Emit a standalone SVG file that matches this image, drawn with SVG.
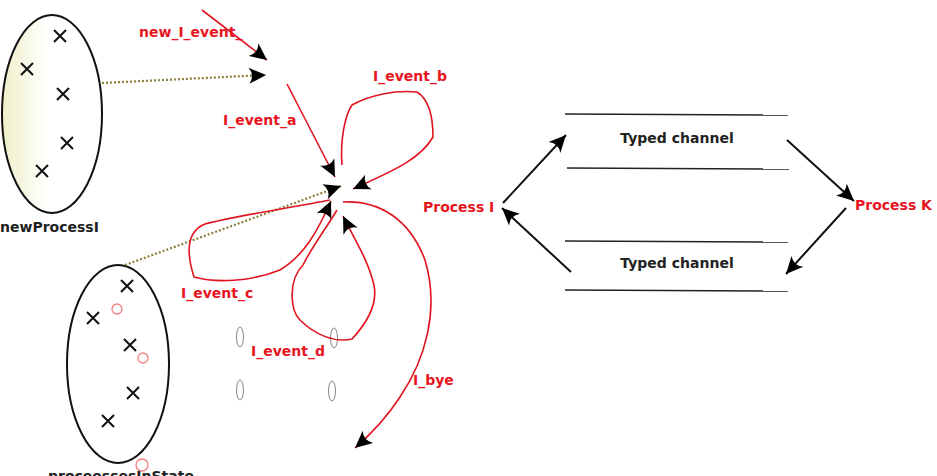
<svg xmlns="http://www.w3.org/2000/svg" width="937" height="476" viewBox="0 0 937 476">
<style>
.lbl{font-family:"DejaVu Sans",sans-serif;font-weight:bold;font-size:14px;fill:#e8141e}
.dk{font-family:"DejaVu Sans",sans-serif;font-weight:bold;font-size:14px;fill:#222}
.red{fill:none;stroke:#e0141e;stroke-width:1.6}
.blk{fill:none;stroke:#111;stroke-width:2}
.dot{fill:none;stroke:#8a7e3a;stroke-width:2.2;stroke-dasharray:2,2}
.x{stroke:#111;stroke-width:2}
.oval{stroke:#111;stroke-width:2}
.ch{stroke:#222;stroke-width:1.5}
.sm{fill:none;stroke:#888;stroke-width:1}
.rc{fill:none;stroke:#f08080;stroke-width:1.3}
</style>
<defs>
<linearGradient id="g1" x1="0" y1="0" x2="1" y2="0">
<stop offset="0" stop-color="#efefc8"/>
<stop offset="0.45" stop-color="#ffffff"/>
</linearGradient>
<marker id="ah" viewBox="-18 -9 20 18" refX="0" refY="0" markerWidth="20" markerHeight="18" orient="auto" markerUnits="userSpaceOnUse">
<path d="M0,0 L-17,-8 Q-11,0 -17,8 Z" fill="#000"/>
</marker>
</defs>

<g id="newProcessI">
<ellipse cx="52" cy="114" rx="50" ry="99" fill="url(#g1)" class="oval"/>
<path class="x" d="M54,30 l12,12 M66,30 l-12,12 M21,63 l12,12 M33,63 l-12,12 M57,88 l12,12 M69,88 l-12,12 M61,137 l12,12 M73,137 l-12,12 M36,165 l12,12 M48,165 l-12,12"/>
<text class="dk" x="0" y="232">newProcessI</text>
</g>

<g id="proceessesInState">
<ellipse cx="118" cy="364" rx="51" ry="99" fill="#fff" class="oval"/>
<path class="x" d="M121,280 l12,12 M133,280 l-12,12 M87,312 l12,12 M99,312 l-12,12 M124,339 l12,12 M136,339 l-12,12 M127,387 l12,12 M139,387 l-12,12 M102,415 l12,12 M114,415 l-12,12"/>
<circle class="rc" cx="117" cy="309" r="5"/>
<circle class="rc" cx="143" cy="358" r="5"/>
<circle class="rc" cx="142" cy="465" r="6"/>
<text class="dk" x="48" y="481">proceessesInState</text>
</g>

<g id="markers">
<ellipse class="sm" cx="240" cy="337" rx="3.5" ry="10"/>
<ellipse class="sm" cx="334" cy="338" rx="3.5" ry="10"/>
<ellipse class="sm" cx="240" cy="390" rx="3.5" ry="10"/>
<ellipse class="sm" cx="332" cy="391" rx="3.5" ry="10"/>
</g>

<g id="connectors">
<path class="dot" d="M102,83 L266,75" marker-end="url(#ah)"/>
<path class="dot" d="M125,265 L341,186" marker-end="url(#ah)"/>
<path class="red" d="M202,10 L267,60" marker-end="url(#ah)"/>
<path class="red" d="M287,84 L335,177" marker-end="url(#ah)"/>
<path class="red" d="M342,165 C340,140 345,115 352,105 C370,95 395,90 417,92 C430,100 433,120 433,137 C420,160 390,172 353,189" marker-end="url(#ah)"/>
<path class="red" d="M330,200 C290,208 240,215 205,224 C185,232 187,255 194,277 C215,283 250,282 280,270 C305,255 318,230 331,201" marker-end="url(#ah)"/>
<path class="red" d="M337,210 C325,230 310,250 303,265 C288,280 290,310 300,320 C315,335 335,343 352,339 C365,325 378,305 374,285 C368,260 355,240 343,216" marker-end="url(#ah)"/>
<path class="red" d="M343,202 C380,200 410,220 425,260 C440,310 425,360 400,397 C385,420 370,435 355,448" marker-end="url(#ah)"/>
<path class="blk" d="M503,203 L566,135" marker-end="url(#ah)"/>
<path class="blk" d="M787,140 L854,201" marker-end="url(#ah)"/>
<path class="blk" d="M846,208 L786,274" marker-end="url(#ah)"/>
<path class="blk" d="M571,272 L502,208" marker-end="url(#ah)"/>
</g>

<g id="channel1">
<line class="ch" x1="565" y1="114" x2="788" y2="115"/>
<line class="ch" x1="567" y1="168" x2="789" y2="169"/>
<text class="dk" x="677" y="143" text-anchor="middle">Typed channel</text>
</g>
<g id="channel2">
<line class="ch" x1="565" y1="241" x2="788" y2="242"/>
<line class="ch" x1="565" y1="290" x2="788" y2="291"/>
<text class="dk" x="677" y="268" text-anchor="middle">Typed channel</text>
</g>

<g id="labels">
<text class="lbl" x="139" y="37">new_I_event_</text>
<text class="lbl" x="223" y="125">I_event_a</text>
<text class="lbl" x="373" y="81">I_event_b</text>
<text class="lbl" x="181" y="298">I_event_c</text>
<text class="lbl" x="251" y="356">I_event_d</text>
<text class="lbl" x="413" y="385">I_bye</text>
</g>
<g id="processI"><text class="lbl" x="423" y="212">Process I</text></g>
<g id="processK"><text class="lbl" x="855" y="210">Process K</text></g>
</svg>
